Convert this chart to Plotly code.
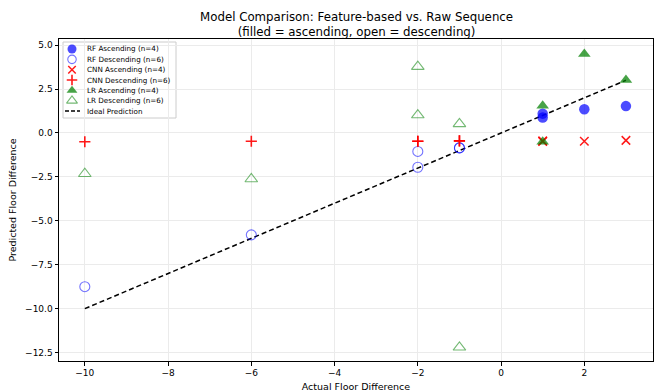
import plotly.graph_objects as go

# ---------------- data ----------------
asc_x = [1, 1, 2, 3]
desc_x = [-10, -6, -2, -2, -1, -1]

rf_asc_y = [1.1, 0.88, 1.35, 1.53]
rf_desc_y = [-8.75, -5.8, -1.05, -1.95, -0.85, -0.85]
cnn_asc_y = [-0.45, -0.48, -0.47, -0.42]
cnn_desc_y = [-0.5, -0.47, -0.47, -0.47, -0.45, -0.45]
lr_asc_y = [1.55, -0.5, 4.5, 3.02]
lr_desc_y = [-2.32, -2.62, 3.78, 1.02, 0.52, -12.2]

ideal_x = [-10, 3]
ideal_y = [-10, 3]

x_ticks = [-10, -8, -6, -4, -2, 0, 2]
y_ticks = [5.0, 2.5, 0.0, -2.5, -5.0, -7.5, -10.0, -12.5]

legend_labels = ["RF Ascending (n=4)", "RF Descending (n=6)", "CNN Ascending (n=4)",
                 "CNN Descending (n=6)", "LR Ascending (n=4)", "LR Descending (n=6)",
                 "Ideal Prediction"]

# ---------------- styles ----------------
BLUE_F = "rgba(0,0,255,0.7)"
BLUE_O = "rgba(0,0,255,0.55)"
RED = "rgba(255,0,0,0.9)"
GREEN_F = "rgba(0,128,0,0.72)"
GREEN_O = "rgba(0,128,0,0.55)"

styles = [
    dict(symbol="circle", size=10.5, color=BLUE_F, line=dict(width=0)),
    dict(symbol="circle-open", size=10, color=BLUE_O, line=dict(width=1.1)),
    dict(symbol="x-thin-open", size=8.5, color=RED, line=dict(width=1.5, color=RED)),
    dict(symbol="cross-thin-open", size=8, color=RED, line=dict(width=1.6, color=RED)),
    dict(symbol="triangle-up", size=11, color=GREEN_F, line=dict(width=0)),
    dict(symbol="triangle-up-open", size=11, color=GREEN_O, line=dict(width=1.1)),
]

series = [
    (asc_x, rf_asc_y), (desc_x, rf_desc_y),
    (asc_x, cnn_asc_y), (desc_x, cnn_desc_y),
    (asc_x, lr_asc_y), (desc_x, lr_desc_y),
]

fig = go.Figure()

fig.add_trace(go.Scatter(x=ideal_x, y=ideal_y, mode="lines",
                         line=dict(color="black", width=1.5, dash="5px,3px"),
                         showlegend=False, hoverinfo="skip"))

for (xs, ys), st, name in zip(series, styles, legend_labels):
    fig.add_trace(go.Scatter(x=xs, y=ys, mode="markers", marker=st,
                             name=name, showlegend=False))

# ---------------- custom compact legend (overlay axes in [0,1]) ----------------
W, H = 654, 392
L, R, T, B = 59, 1, 39, 31
pw, ph = W - L - R, H - T - B

def px(x):
    return (x - L) / pw

def py(y):
    return 1 - (y - T) / ph

row0, step = 49.0, 10.35
mk_x = px(72)
for i, st in enumerate(styles):
    s = dict(st)
    s["size"] = max(st["size"] - 1.5, 7.5)
    fig.add_trace(go.Scatter(x=[mk_x], y=[py(row0 + i * step)], mode="markers",
                             marker=s, xaxis="x2", yaxis="y2",
                             showlegend=False, hoverinfo="skip"))

shapes = [
    dict(type="rect", xref="paper", yref="paper", x0=px(63), x1=px(176),
         y0=py(118), y1=py(42), line=dict(color="#cccccc", width=1),
         fillcolor="rgba(255,255,255,0.8)", layer="below"),
    dict(type="line", xref="paper", yref="paper", x0=px(65), x1=px(80),
         y0=py(row0 + 6 * step), y1=py(row0 + 6 * step),
         line=dict(color="black", width=1.5, dash="4px,2px")),
]

annotations = [
    dict(text="Model Comparison: Feature-based vs. Raw Sequence<br>(filled = ascending, open = descending)",
         xref="paper", yref="paper", x=0.5, y=py(8), xanchor="center", yanchor="top",
         showarrow=False, font=dict(size=11.8, color="black"))
]
for i, lab in enumerate(legend_labels):
    annotations.append(dict(text=lab, xref="paper", yref="paper", x=px(85),
                            y=py(row0 + i * step), xanchor="left", yanchor="middle",
                            showarrow=False, font=dict(size=7.2, color="black")))

axis_common = dict(showline=True, linecolor="black", linewidth=1, mirror=True,
                   ticks="outside", ticklen=3.5, tickwidth=1, tickcolor="black",
                   showgrid=True, gridcolor="#ebebeb", gridwidth=1, zeroline=False,
                   tickfont=dict(size=9, color="black"))

fig.update_layout(
    width=W, height=H,
    margin=dict(l=L, r=R, t=T, b=B, pad=0),
    plot_bgcolor="white", paper_bgcolor="white",
    font=dict(family="DejaVu Sans", color="black"),
    showlegend=False,
    xaxis=dict(range=[-10.62, 3.65], tickvals=x_ticks,
               title=dict(text="Actual Floor Difference", font=dict(size=9.5), standoff=6),
               **axis_common),
    yaxis=dict(range=[-12.98, 5.35], tickvals=y_ticks, tickformat=".1f",
               title=dict(text="Predicted Floor Difference", font=dict(size=9.5), standoff=6),
               **axis_common),
    xaxis2=dict(range=[0, 1], overlaying="x", visible=False, fixedrange=True),
    yaxis2=dict(range=[0, 1], overlaying="y", visible=False, fixedrange=True),
    shapes=shapes,
    annotations=annotations,
)

fig.write_html("out.html", config={"displayModeBar": False},
               post_script="document.body.style.margin='0px';")
